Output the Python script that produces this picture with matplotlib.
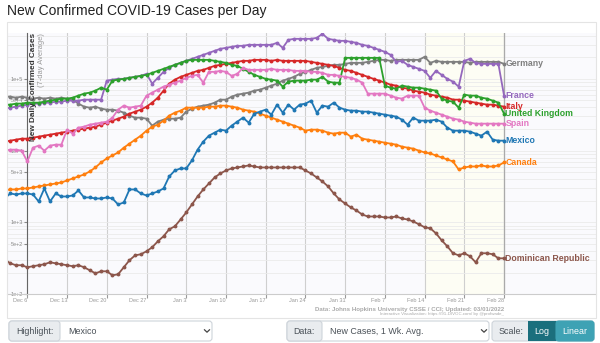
import matplotlib
matplotlib.use('Agg')
import matplotlib.pyplot as plt
import matplotlib.dates as mdates
import matplotlib.ticker as mticker
from matplotlib.patches import FancyBboxPatch, Rectangle
from matplotlib.lines import Line2D
from matplotlib.transforms import IdentityTransform, ScaledTranslation
import pandas as pd

plt.rcParams['font.family'] = ['Liberation Sans', 'DejaVu Sans']

W, H = 600, 343

# ---- data: new cases, 7-day average, Dec 2 2021 .. Feb 28 2022 ----
germany = [56500, 56500, 54700, 56500,
           54700, 53000, 54700, 53000, 54700, 53000, 54700, 53000,
           51300, 45200, 41000, 39700, 41000, 38500, 37200, 37200,
           36100, 33800, 30700, 28800, 28800, 27900, 22300, 25400,
           27000, 27900, 27900, 28800, 34900, 38500, 41000, 42400,
           43700, 46600, 51300, 51300, 56500, 60300, 62200, 64300,
           68500, 70700, 75400, 80400, 85800, 94400, 100000, 106600,
           117400, 125200, 133500, 142300, 146900, 151700, 156700, 156700,
           161800, 167000, 167000, 167000, 172500, 178100, 183900, 183900,
           178100, 183900, 183900, 183900, 183900, 183900, 202500, 167000,
           178100, 172500, 172500, 172500, 172500, 172500, 167000, 172500,
           172500, 172500, 172500, 172500, 161800]
france = [38500, 39700, 41000, 42400,
          43700, 45200, 45200, 46600, 46600, 48100, 48100, 49700,
          49700, 49700, 51300, 51300, 51300, 51300, 94400, 97500,
          100000, 100000, 103300, 106600, 110100, 117400, 85800, 103300,
          125200, 142300, 156700, 167000, 178100, 189900, 202500, 215900,
          230200, 245500, 261700, 270300, 279100, 288200, 288200, 297600,
          297600, 297600, 297600, 297600, 317300, 270300, 349300, 360700,
          360700, 360700, 360700, 372500, 423500, 360700, 349300, 338300,
          338300, 327600, 317300, 297600, 288200, 270300, 253500, 237700,
          215900, 172500, 178100, 156700, 146900, 137800, 129200, 103300,
          129200, 113700, 100000, 91400, 77900, 178100, 189900, 167000,
          161800, 161800, 161800, 161800, 58400]
italy = [13350, 13780, 14230, 14690,
         14690, 15170, 15670, 16180, 16700, 17250, 17810, 18390,
         18990, 19610, 20250, 20910, 21590, 23020, 24550, 26170,
         27910, 29760, 32760, 34930, 37250, 41010, 46620, 54730,
         68510, 85750, 97490, 106600, 113700, 121200, 129200, 133500,
         142300, 151700, 156700, 161800, 167000, 172500, 178100, 178100,
         183900, 183900, 183900, 178100, 183900, 178100, 178100, 178100,
         178100, 178100, 172500, 167000, 161800, 156700, 151700, 142300,
         133500, 129200, 121200, 113700, 106600, 100000, 94400, 88540,
         83040, 80420, 75420, 73040, 68510, 66340, 64250, 60260,
         58360, 56520, 54730, 51330, 51330, 49710, 48140, 46620,
         45150, 43730, 43730, 42350, 41010]
uk = [43700, 43700, 45200, 45200,
      46600, 46600, 46600, 48100, 49700, 51300, 53000, 53000,
      54700, 58400, 62200, 64300, 68500, 75400, 70700, 94400,
      97500, 100000, 103300, 106600, 110100, 113700, 121200, 129200,
      137800, 146900, 156700, 167000, 178100, 183900, 183900, 183900,
      183900, 178100, 172500, 167000, 156700, 151700, 137800, 125200,
      113700, 106600, 100000, 97500, 94400, 77900, 91400, 94400,
      94400, 94400, 97500, 97500, 106600, 91400, 88500, 88500,
      196100, 196100, 196100, 196100, 196100, 196100, 196100, 80400,
      75400, 73000, 80400, 77900, 75400, 75400, 73000, 70700,
      68500, 53000, 49700, 48100, 39700, 60300, 58400, 58400,
      54700, 53000, 49700, 46600, 32800]
spain = [10000, 10330, 10330, 10000,
         7074, 11010, 11740, 10000, 11740, 12120, 12120, 19610,
         17250, 20910, 21590, 23020, 23770, 24550, 25350, 28820,
         37250, 42350, 39720, 41010, 42350, 58360, 64250, 70740,
         77880, 83040, 88540, 94410, 103300, 110100, 113700, 88540,
         125200, 125200, 129200, 125200, 110100, 117400, 142300, 133500,
         133500, 133500, 133500, 137800, 133500, 133500, 133500, 129200,
         129200, 129200, 125200, 125200, 121200, 113700, 113700, 110100,
         106600, 103300, 97490, 88540, 62220, 62220, 62220, 62220,
         58360, 54730, 53000, 58360, 58360, 58360, 39720, 36070,
         33830, 31730, 29760, 27910, 27030, 25350, 24550, 23770,
         23770, 23770, 23770, 23770, 23770]
canada = [2791, 2882, 2882, 2976,
          2976, 3073, 3173, 3276, 3383, 3493, 3607, 3846,
          4101, 4373, 4662, 5133, 5836, 6851, 7788, 8575,
          9441, 11010, 12520, 14230, 16180, 18990, 21590, 23020,
          26170, 30730, 33830, 36070, 39720, 39720, 39720, 39720,
          41010, 41010, 42350, 42350, 41010, 39720, 37250, 36070,
          34930, 32760, 30730, 28820, 27030, 25350, 23770, 22300,
          20910, 18990, 19610, 19610, 18990, 17810, 17250, 17810,
          17810, 15670, 16700, 14690, 14230, 13780, 13350, 12920,
          12520, 12120, 11370, 11010, 10660, 10000, 9441, 9143,
          8575, 8042, 7542, 7074, 5473, 5836, 6026, 6026,
          6222, 6026, 6026, 6222, 6851]
mexico = [2159, 2535, 2455, 2535,
          2535, 2455, 1961, 2976, 1961, 2535, 2302, 2302,
          2377, 2791, 2230, 2230, 2159, 2159, 2230, 2159,
          1781, 1899, 2882, 2882, 2535, 2377, 2535, 2703,
          2976, 4373, 5300, 5652, 5652, 7304, 10330, 13350,
          16180, 17810, 19610, 18990, 22300, 25350, 28820, 24550,
          32760, 34930, 37250, 31730, 43730, 33830, 43730, 37250,
          43730, 45150, 49710, 33830, 42350, 41010, 46620, 39720,
          37250, 36070, 36070, 34930, 34930, 33830, 32760, 31730,
          30730, 29760, 27030, 23020, 28820, 26170, 26170, 26170,
          27030, 25350, 20910, 18990, 18990, 18990, 18390, 17250,
          16180, 18390, 14230, 13780, 13780]
dominican = [307, 270, 254, 254,
             238, 246, 254, 262, 279, 270, 262, 254,
             246, 254, 238, 216, 196, 209, 209, 184,
             190, 238, 298, 349, 361, 397, 452, 547,
             643, 804, 885, 1101, 1378, 1781, 2302, 2882,
             3493, 4235, 4814, 5300, 5652, 5836, 6026, 6222,
             6026, 5836, 5836, 5836, 5836, 5836, 5836, 5836,
             5836, 5300, 4814, 4235, 3725, 3173, 2535, 2091,
             1839, 1618, 1469, 1292, 1212, 1212, 1212, 1174,
             1174, 1212, 1137, 1101, 1033, 944, 858, 830,
             707, 565, 466, 373, 349, 373, 338, 279,
             373, 373, 361, 317, 317]

countries = ['Germany', 'France', 'Italy', 'United Kingdom', 'Spain',
             'Canada', 'Dominican Republic', 'Mexico']
series = [germany, france, italy, uk, spain, canada, dominican, mexico]
colors = ['#7f7f7f', '#9467bd', '#d62728', '#2ca02c', '#e377c2',
          '#ff7f0e', '#8c564b', '#1f77b4']

dates = pd.date_range('2021-12-02', periods=len(germany), freq='D')
week_ticks = pd.date_range('2021-12-06', '2022-02-28', freq='7D')
week_labels = [f"{d:%b} {d.day}" for d in week_ticks]
y_ticks = [100, 500, 1000, 5000, 10000, 50000, 100000]
y_labels = ['1e+2', '5e+2', '1e+3', '5e+3', '1e+4', '5e+4', '1e+5']

fig = plt.figure(figsize=(W / 100, H / 100), dpi=100)
fig.patch.set_facecolor('white')

# outer chart frame
fig.add_artist(Rectangle((7, H - 318), 589, 296, transform=IdentityTransform(),
                         facecolor='none', edgecolor='#e4e4e4', lw=0.8))

ax = fig.add_axes([7 / W, (H - 294.3) / H, 589 / W, (294.3 - 33) / H])
ax.set_facecolor('#fafafd')
d0 = mdates.date2num(week_ticks[0])
ax.set_xlim(d0 - 3.58, d0 + 100.2)
ax.set_yscale('log')
ax.set_ylim(100, 435000)

ax.axvspan(mdates.date2num(pd.Timestamp('2022-02-14')),
           mdates.date2num(pd.Timestamp('2022-02-28')),
           color='#fdfdf4', zorder=0)

for name, vals, col in zip(countries, series, colors):
    ax.plot(dates, vals, color=col, lw=1.3, marker='o', ms=2.8,
            markeredgewidth=0, zorder=3, clip_on=True)
    ax.text(dates[-1] + pd.Timedelta(hours=6), vals[-1], name, color=col,
            fontsize=6.3, fontweight='bold', va='center', ha='left')

# grid
ax.set_xticks(week_ticks)
ax.set_xticklabels(week_labels, ha='right')
for lab in ax.get_xticklabels():
    lab.set_transform(lab.get_transform() + ScaledTranslation(-2 / 100, 0, fig.dpi_scale_trans))
ax.xaxis.grid(True, color='#cfcfcf', lw=0.8)
ax.set_yticks(y_ticks)
ax.set_yticklabels(y_labels)
ax.yaxis.set_minor_locator(mticker.LogLocator(subs=range(2, 10)))
ax.yaxis.set_minor_formatter(mticker.NullFormatter())
ax.yaxis.grid(True, which='both', color='#ebebeb', lw=0.6)
ax.set_axisbelow(True)
ax.tick_params(axis='x', labelsize=4, colors='#999999', length=3, pad=0)
ax.tick_params(axis='y', labelsize=4, colors='#888888', length=2, pad=1)
ax.tick_params(axis='y', which='minor', length=0)

ax.spines['left'].set_position(('data', d0))
ax.spines['left'].set_color('#666666')
ax.spines['left'].set_linewidth(0.8)
ax.spines['bottom'].set_color('#cccccc')
ax.spines['top'].set_visible(False)
ax.spines['right'].set_visible(False)
ax.axvline(mdates.date2num(week_ticks[-1]), color='#aaaaaa', lw=0.9, zorder=1)

# y axis title placed inside the plot
fig.text(33.3, H - 33, 'New Daily Confirmed Cases', transform=IdentityTransform(),
         rotation=90, ha='center', va='top', fontsize=5.9, fontweight='bold', color='#333333')
fig.text(41.3, H - 33, '(7-day Average)', transform=IdentityTransform(),
         rotation=90, ha='center', va='top', fontsize=5.4, color='#999999')

fig.text(7, H - 15.5, 'New Confirmed COVID-19 Cases per Day', transform=IdentityTransform(),
         fontsize=10, color='#222222', va='baseline', ha='left')

fig.text(504, H - 309, 'Data: Johns Hopkins University CSSE / CCI; Updated: 03/01/2022',
         transform=IdentityTransform(), fontsize=4.4, fontweight='bold', color='#aaaaaa',
         ha='right', va='center')
fig.text(504, H - 314.5, 'Interactive Visualization: https://91-DIVOC.com/ by @profwade_',
         transform=IdentityTransform(), fontsize=3.2, color='#aaaaaa', ha='right', va='center')


# ---- form controls under the chart ----
def box(x0, x1, fc, ec='#ced4da', r=3):
    fig.add_artist(FancyBboxPatch((x0, H - 341), x1 - x0, 20,
                                  boxstyle=f'round,pad=0,rounding_size={r}',
                                  transform=IdentityTransform(), facecolor=fc,
                                  edgecolor=ec, lw=0.8))


def chevron(x, y):
    fig.add_artist(Line2D([x - 2.5, x, x + 2.5], [H - y + 1.2, H - y - 1.2, H - y + 1.2],
                          transform=IdentityTransform(), color='#444444', lw=0.9))


box(9, 212, '#ffffff')
box(9, 60, '#e9ecef')
fig.text(16, H - 331, 'Highlight:', transform=IdentityTransform(), fontsize=6.4,
         color='#495057', va='center')
fig.text(68, H - 331, 'Mexico', transform=IdentityTransform(), fontsize=6.4,
         color='#495057', va='center')
chevron(207, 331)

box(287, 489, '#ffffff')
box(287, 322, '#e9ecef')
fig.text(293, H - 331, 'Data:', transform=IdentityTransform(), fontsize=6.4,
         color='#495057', va='center')
fig.text(330, H - 331, 'New Cases, 1 Wk. Avg.', transform=IdentityTransform(), fontsize=6.4,
         color='#495057', va='center')
chevron(484, 331)

box(492, 594, '#e9ecef')
fig.add_artist(Rectangle((528, H - 341), 28, 20, transform=IdentityTransform(),
                         facecolor='#1b6f7d', edgecolor='none'))
box(556, 594, '#3ea2b4', ec='#3ea2b4')
fig.add_artist(Rectangle((556, H - 341), 6, 20, transform=IdentityTransform(),
                         facecolor='#3ea2b4', edgecolor='none'))
fig.text(499, H - 331, 'Scale:', transform=IdentityTransform(), fontsize=6.4,
         color='#495057', va='center')
fig.text(542, H - 331, 'Log', transform=IdentityTransform(), fontsize=6.4,
         color='white', va='center', ha='center')
fig.text(575, H - 331, 'Linear', transform=IdentityTransform(), fontsize=6.4,
         color='white', va='center', ha='center')

fig.savefig('out.png', dpi=100)
